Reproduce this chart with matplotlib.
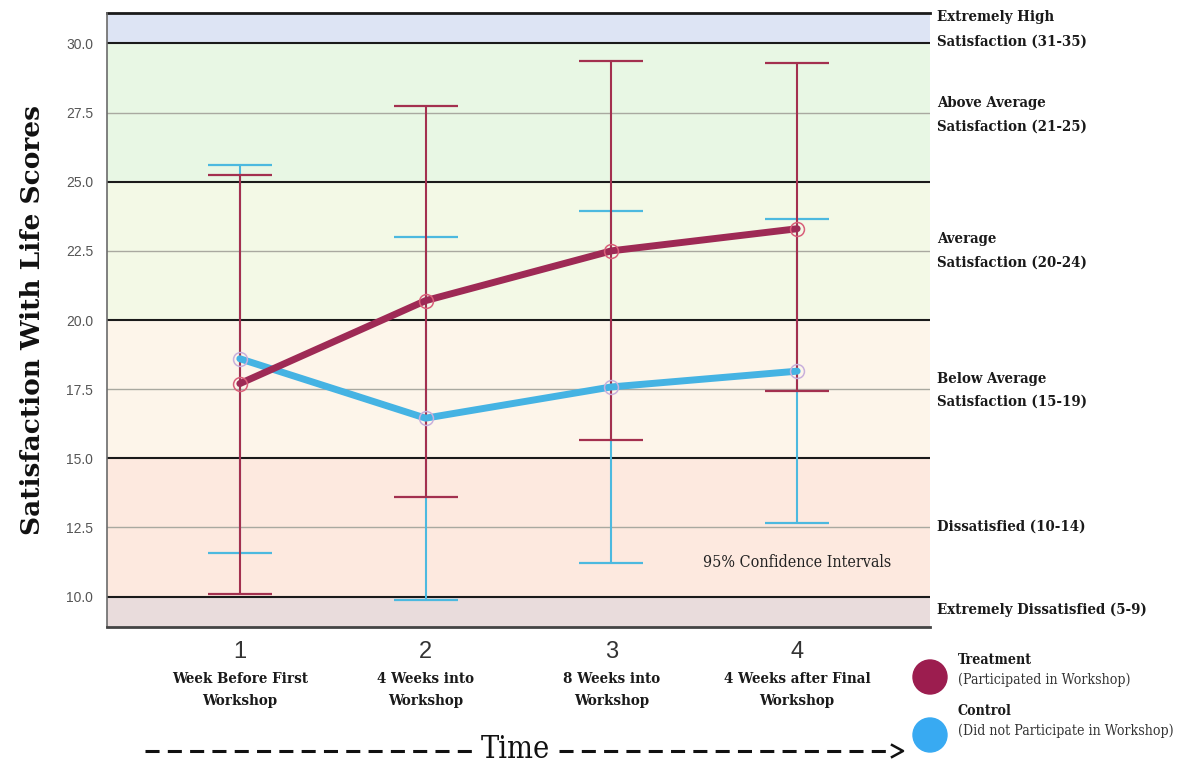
import matplotlib
matplotlib.use("Agg")
import matplotlib.pyplot as plt
from matplotlib.patches import Circle
from matplotlib.lines import Line2D
from matplotlib.transforms import blended_transform_factory

# --- data -------------------------------------------------------------
timepoints = [1, 2, 3, 4]
time_labels = ["Week Before First\nWorkshop", "4 Weeks into\nWorkshop",
               "8 Weeks into\nWorkshop", "4 Weeks after Final\nWorkshop"]

treatment_mean = [17.7, 20.7, 22.5, 23.3]
treatment_low = [10.1, 13.6, 15.65, 17.45]
treatment_high = [25.25, 27.75, 29.38, 29.28]

control_mean = [18.6, 16.45, 17.58, 18.15]
control_low = [11.58, 9.88, 11.22, 12.67]
control_high = [25.6, 23.0, 23.95, 23.65]

band_edges = [8.9, 10, 15, 20, 25, 30, 31.1]
band_colors = ["#e9dcdc", "#fde9df", "#fdf5ea", "#f3f9e6", "#e8f7e4", "#dde4f4"]
band_labels = [
    (["Extremely High", "Satisfaction (31-35)"], [30.97, 30.07]),
    (["Above Average", "Satisfaction (21-25)"], [27.83, 27.0]),
    (["Average", "Satisfaction (20-24)"], [22.92, 22.09]),
    (["Below Average", "Satisfaction (15-19)"], [17.87, 17.04]),
    (["Dissatisfied (10-14)"], [12.53]),
    (["Extremely Dissatisfied (5-9)"], [9.53]),
]
y_ticks = [10.0, 12.5, 15.0, 17.5, 20.0, 22.5, 25.0, 27.5, 30.0]

# --- style ------------------------------------------------------------
SERIF = ["DejaVu Serif"]
COND = "condensed"
TREAT_LINE = "#9e2a55"
TREAT_BAR = "#a3304f"
TREAT_CAP = "#c9455a"
CTRL_LINE = "#45b3e3"
CTRL_BAR = "#4cb9df"

fig = plt.figure(figsize=(11.77, 7.63), dpi=100)
fig.patch.set_facecolor("white")
ax = fig.add_axes([107 / 1177, 1 - 627 / 763, 823 / 1177, 614 / 763])
ax.set_xlim(0.285, 4.715)
ax.set_ylim(band_edges[0], band_edges[-1])

# background bands
for lo, hi, c in zip(band_edges[:-1], band_edges[1:], band_colors):
    ax.axhspan(lo, hi, color=c, zorder=0, lw=0)
for y in [27.5, 22.5, 17.5, 12.5]:
    ax.axhline(y, color="#a9a9a0", lw=1.0, zorder=1)
for y in [10, 15, 20, 25, 30]:
    ax.axhline(y, color="#1a1a1a", lw=1.5, zorder=1)
ax.axhline(band_edges[-1], color="#1a1a1a", lw=2.0, zorder=1, clip_on=False)

# confidence intervals (control first, treatment drawn on top)
cap = 23
c_err = [[m - l for m, l in zip(control_mean, control_low)],
         [h - m for m, h in zip(control_mean, control_high)]]
t_err = [[m - l for m, l in zip(treatment_mean, treatment_low)],
         [h - m for m, h in zip(treatment_mean, treatment_high)]]
ax.errorbar(timepoints, control_mean, yerr=c_err, fmt="none",
            ecolor=CTRL_BAR, elinewidth=1.5, capsize=cap,
            capthick=1.6, zorder=2)
_, tcaps, _ = ax.errorbar(timepoints, treatment_mean, yerr=t_err, fmt="none",
                          ecolor=TREAT_BAR, elinewidth=1.5, capsize=cap,
                          capthick=1.6, zorder=3)
for cp in tcaps:
    cp.set_color(TREAT_CAP)

# mean lines
ax.plot(timepoints, control_mean, color=CTRL_LINE, lw=5, zorder=4,
        solid_capstyle="round")
ax.plot(timepoints, treatment_mean, color=TREAT_LINE, lw=5, zorder=5,
        solid_capstyle="round")
ax.plot(timepoints, control_mean, ls="none", marker="o", ms=10, mfc="none",
        mec="#c9b0dc", mew=1.1, zorder=6)
ax.plot(timepoints, treatment_mean, ls="none", marker="o", ms=10, mfc="none",
        mec="#d9607a", mew=1.1, zorder=6)

# axes
for s in ["top", "right"]:
    ax.spines[s].set_visible(False)
ax.spines["left"].set_color("#6b6b6b")
ax.spines["left"].set_linewidth(1.2)
ax.spines["bottom"].set_color("#444444")
ax.spines["bottom"].set_linewidth(2.0)
ax.set_yticks(y_ticks)
ax.set_yticklabels([f"{v:.1f}" for v in y_ticks], fontfamily="Liberation Sans",
                   fontsize=10, color="#555555")
ax.tick_params(axis="y", length=0, pad=10)
ax.set_xticks(timepoints)
ax.set_xticklabels([str(t) for t in timepoints], fontfamily="Liberation Sans",
                   fontsize=17, color="#333333")
ax.tick_params(axis="x", length=0, pad=10)

ax.set_ylabel("Satisfaction With Life Scores", fontfamily=SERIF,
              fontweight="bold", fontsize=19, labelpad=15, color="#111111")

xt = blended_transform_factory(ax.transData, ax.transAxes)
for x, lab in zip(timepoints, time_labels):
    ax.text(x, -0.1026, lab, transform=xt, ha="center", va="center",
            fontfamily=SERIF, fontweight="bold", fontsize=10.8,
            fontstretch=COND, linespacing=1.8, color="#1a1a1a")

yt = blended_transform_factory(ax.transAxes, ax.transData)
for lines, ys in band_labels:
    for line, y in zip(lines, ys):
        ax.text(1.0085, y, line, transform=yt, ha="left", va="center",
                fontfamily=SERIF, fontweight="bold", fontsize=10.7,
                fontstretch=COND, color="#1a1a1a", clip_on=False)

ax.text(4.0, 11.25, "95% Confidence Intervals", ha="center", va="center",
        fontfamily=SERIF, fontsize=11.5, fontstretch=COND, color="#222222",
        zorder=7)

# legend / annotation overlay in pixel coordinates
lax = fig.add_axes([0, 0, 1, 1], facecolor="none")
lax.set_xlim(0, 1177)
lax.set_ylim(763, 0)
lax.axis("off")

# time arrow
lax.text(515, 749, "Time", ha="center", va="center", fontfamily=SERIF,
         fontsize=22, fontstretch=COND, color="#111111")
lax.add_line(Line2D([145, 472], [751, 751], color="#111111", lw=2.2,
                    dashes=(4.6, 2.7), dash_capstyle="butt"))
lax.add_line(Line2D([559, 893], [751, 751], color="#111111", lw=2.2,
                    dashes=(4.6, 2.7), dash_capstyle="butt"))
lax.add_line(Line2D([892, 903, 892], [745, 751, 757], color="#111111", lw=1.8))

lax.add_patch(Circle((930, 677), 17, color="#9c1d4f"))
lax.add_patch(Circle((930, 735), 17, color="#38aaf2"))
lax.text(958, 660, "Treatment", ha="left", va="center", fontfamily=SERIF,
         fontweight="bold", fontsize=10.2, fontstretch=COND, color="#1a1a1a")
lax.text(958, 680, "(Participated in Workshop)", ha="left", va="center",
         fontfamily=SERIF, fontsize=10.2, fontstretch=COND, color="#333333")
lax.text(958, 711, "Control", ha="left", va="center", fontfamily=SERIF,
         fontweight="bold", fontsize=10.2, fontstretch=COND, color="#1a1a1a")
lax.text(958, 731, "(Did not Participate in Workshop)", ha="left", va="center",
         fontfamily=SERIF, fontsize=10.2, fontstretch=COND, color="#333333")

fig.savefig("out.png", dpi=100)
